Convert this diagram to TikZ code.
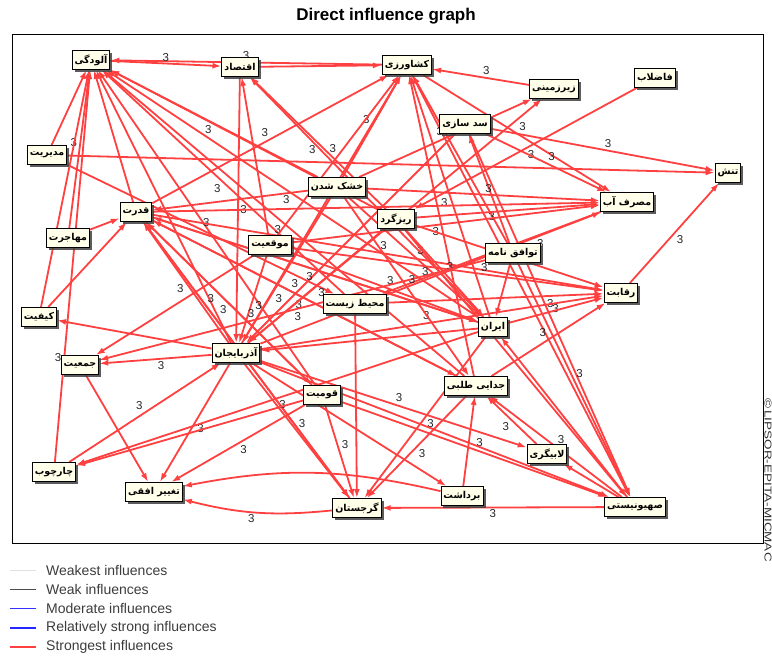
\documentclass[tikz,border=0pt]{standalone}
\usepackage{fontspec}
\setmainfont{Liberation Sans}
\newfontfamily\persianfont[Script=Arabic]{DejaVu Sans}
\TeXXeTstate=1
\usetikzlibrary{arrows.meta,shadows,backgrounds}
\definecolor{inflred}{RGB}{255,64,64}
\definecolor{factfill}{RGB}{255,255,234}
\definecolor{legendtext}{RGB}{60,60,60}
\newcommand{\fa}[1]{\beginR#1\endR}
\tikzset{
    factor/.style={draw=black, fill=factfill, line width=0.9pt, inner sep=2.5pt, minimum height=19pt,
        font=\persianfont\bfseries\fontsize{9.5}{10}\selectfont,
        drop shadow={shadow xshift=2.5pt, shadow yshift=-2.5pt, fill=black!75, opacity=.85}},
    infl/.style={draw=inflred, line width=1.8pt, -{Latex[length=9pt,width=6pt]}},
    lbl/.style={auto, font=\fontsize{11.5}{12}\selectfont, inner sep=1.5pt, text=black!85},
    legend/.style={anchor=west, inner sep=2pt, font=\fontsize{14}{15}\selectfont, text=legendtext},
}

\begin{document}
\begin{tikzpicture}[x=1pt, y=-1pt]
    \useasboundingbox (0,0) rectangle (772,657);
    \node[font=\fontsize{17}{19}\selectfont\bfseries] (title) at (386,16) {Direct influence graph};
    \draw[line width=1pt] (12,34) rectangle (763,543);
    \node[rotate=-90, xscale=1.35, font=\fontsize{10}{11}\selectfont, text=black!80] (stamp) at (768,480) {\textcopyright\,LIPSOR-EPITA-MICMAC};

    \node[factor] (alud) at (91,60) {\fa{آلودگی}};
    \node[factor] (eqtesad) at (240,67) {\fa{اقتصاد}};
    \node[factor] (keshav) at (407,65) {\fa{کشاورزی}};
    \node[factor] (zirzam) at (554,89) {\fa{زیرزمینی}};
    \node[factor] (fazelab) at (655,78) {\fa{فاضلاب}};
    \node[factor] (sadsazi) at (465,124) {\fa{سد سازی}};
    \node[factor] (modir) at (47,155) {\fa{مدیریت}};
    \node[factor] (khoshk) at (337,187) {\fa{خشک شدن}};
    \node[factor] (tanesh) at (728,173) {\fa{تنش}};
    \node[factor] (masraf) at (627,202) {\fa{مصرف آب}};
    \node[factor] (qodrat) at (136,212) {\fa{قدرت}};
    \node[factor] (rizgard) at (396,219) {\fa{ریزگرد}};
    \node[factor] (mohajer) at (68,238) {\fa{مهاجرت}};
    \node[factor] (moqeiat) at (270,245) {\fa{موقعیت}};
    \node[factor] (tavafoq) at (513,253) {\fa{توافق نامه}};
    \node[factor] (mohit) at (355,304) {\fa{محیط زیست}};
    \node[factor] (reqabat) at (621,293) {\fa{رقابت}};
    \node[factor] (keyfiat) at (39,317) {\fa{کیفیت}};
    \node[factor] (iran) at (493,327) {\fa{ایران}};
    \node[factor] (azar) at (236,353) {\fa{آذربایجان}};
    \node[factor] (jamiat) at (80,365) {\fa{جمعیت}};
    \node[factor] (qomiat) at (322,395) {\fa{قومیت}};
    \node[factor] (jodaei) at (476,386) {\fa{جدایی طلبی}};
    \node[factor] (labi) at (547,454) {\fa{لابیگری}};
    \node[factor] (charchub) at (54,472) {\fa{چارچوب}};
    \node[factor] (taqir) at (154,492) {\fa{تغییر افقی}};
    \node[factor] (bardasht) at (462,496) {\fa{برداشت}};
    \node[factor] (gorjestan) at (357,508) {\fa{گرجستان}};
    \node[factor] (sahyun) at (635,507) {\fa{صهیونیستی}};

    \begin{pgfonlayer}{background}
    \draw[infl] (keshav) -- node[lbl,swap]{3} (alud);
    \draw[infl] (alud) -- node[lbl]{3} (eqtesad);
    \draw[infl] (eqtesad) -- (keshav);
    \draw[infl] (zirzam) -- node[lbl,swap]{3} (keshav);
    \draw[infl] (modir) -- (alud);
    \draw[infl] (mohajer) -- node[lbl]{3} (alud);
    \draw[infl] (keyfiat) -- (alud);
    \draw[infl] (charchub) -- node[lbl,near start]{3} (alud);
    \draw[infl] (khoshk) -- node[lbl]{3} (alud);
    \draw[infl] (iran) -- node[lbl]{3} (alud);
    \draw[infl] (azar) -- (alud);
    \draw[infl] (mohit) -- node[lbl]{3} (alud);
    \draw[infl] (rizgard) -- (alud);
    \draw[infl] (jodaei) -- node[lbl]{3} (alud);
    \draw[infl] (qomiat) -- (alud);
    \draw[infl] (qodrat) -- (alud);
    \draw[infl] (eqtesad) -- node[lbl]{3} (azar);
    \draw[infl] (rizgard) -- node[lbl]{3} (eqtesad);
    \draw[infl] (iran) -- (eqtesad);
    \draw[infl] (moqeiat) -- (eqtesad);
    \draw[infl] (khoshk) -- node[lbl]{3} (keshav);
    \draw[infl] (moqeiat) -- node[lbl]{3} (keshav);
    \draw[infl] (qodrat) -- node[lbl]{3} (keshav);
    \draw[infl] (azar) -- (keshav);
    \draw[infl] (iran) -- node[lbl]{3} (keshav);
    \draw[infl] (tavafoq) -- (keshav);
    \draw[infl] (jodaei) -- node[lbl]{3} (keshav);
    \draw[infl] (keshav) -- node[lbl]{3} (masraf);
    \draw[infl] (keshav) -- (sahyun);
    \draw[infl] (khoshk) -- node[lbl]{3} (zirzam);
    \draw[infl] (azar) -- (zirzam);
    \draw[infl] (fazelab) -- node[lbl]{3} (rizgard);
    \draw[infl] (sadsazi) -- node[lbl]{3} (tanesh);
    \draw[infl] (sadsazi) -- node[lbl]{3} (masraf);
    \draw[infl] (tavafoq) -- node[lbl,pos=.3]{3} (sadsazi);
    \draw[infl] (sadsazi) -- (azar);
    \draw[infl] (sadsazi) -- node[lbl]{3} (sahyun);
    \draw[infl] (modir) -- (tanesh);
    \draw[infl] (modir) -- node[lbl]{3} (mohit);
    \draw[infl] (khoshk) -- node[lbl]{3} (masraf);
    \draw[infl] (khoshk) -- node[lbl,pos=.65]{3} (azar);
    \draw[infl] (khoshk) -- (qodrat);
    \draw[infl] (khoshk) -- node[lbl]{3} (iran);
    \draw[infl] (reqabat) -- node[lbl,swap]{3} (tanesh);
    \draw[infl] (qodrat) -- (masraf);
    \draw[infl] (azar) -- node[lbl]{3} (masraf);
    \draw[infl] (rizgard) -- (masraf);
    \draw[infl] (moqeiat) -- (masraf);
    \draw[infl] (masraf) -- node[lbl,pos=.3]{3} (mohit);
    \draw[infl] (mohajer) -- (qodrat);
    \draw[infl] (keyfiat) -- (qodrat);
    \draw[infl] (azar) -- node[lbl]{3} (qodrat);
    \draw[infl] (iran) -- node[lbl]{3} (qodrat);
    \draw[infl] (qomiat) -- node[lbl]{3} (qodrat);
    \draw[infl] (gorjestan) -- (qodrat);
    \draw[infl] (jodaei) -- node[lbl]{3} (qodrat);
    \draw[infl] (qodrat) -- node[lbl]{3} (reqabat);
    \draw[infl] (qodrat) -- node[lbl,pos=.3]{3} (gorjestan);
    \draw[infl] (qodrat) -- node[lbl,pos=.45]{3} (jodaei);
    \draw[infl] (qodrat) -- (iran);
    \draw[infl] (azar) -- node[lbl]{3} (taqir);
    \draw[infl] (charchub) -- node[lbl]{3} (azar);
    \draw[infl] (iran) -- node[lbl]{3} (charchub);
    \draw[infl] (qomiat) -- (charchub);
    \draw[infl] (azar) -- node[lbl]{3} (jamiat);
    \draw[infl] (moqeiat) -- (jamiat);
    \draw[infl] (jamiat) -- (taqir);
    \draw[infl] (qomiat) -- node[lbl]{3} (taqir);
    \draw[infl] (bardasht) to[bend right=12] (taqir);
    \draw[infl] (gorjestan) to[bend left=10] node[lbl]{3} (taqir);
    \draw[infl] (sahyun) -- node[lbl]{3} (gorjestan);
    \draw[infl] (bardasht) -- (jodaei);
    \draw[infl] (azar) -- node[lbl]{3} (gorjestan);
    \draw[infl] (mohit) -- (gorjestan);
    \draw[infl] (iran) -- node[lbl]{3} (gorjestan);
    \draw[infl] (qomiat) -- node[lbl]{3} (gorjestan);
    \draw[infl] (jodaei) -- node[lbl]{3} (gorjestan);
    \draw[infl] (azar) -- node[lbl]{3} (labi);
    \draw[infl] (sahyun) -- (labi);
    \draw[infl] (labi) -- node[lbl]{3} (jodaei);
    \draw[infl] (sahyun) -- node[lbl,swap]{3} (jodaei);
    \draw[infl] (sahyun) -- (iran);
    \draw[infl] (tavafoq) -- node[lbl]{3} (sahyun);
    \draw[infl] (qomiat) -- node[lbl]{3} (sahyun);
    \draw[infl] (azar) -- (sahyun);
    \draw[infl] (rizgard) -- (sahyun);
    \draw[infl] (iran) -- node[lbl]{3} (reqabat);
    \draw[infl] (jodaei) -- node[lbl]{3} (reqabat);
    \draw[infl] (azar) -- node[lbl]{3} (reqabat);
    \draw[infl] (rizgard) -- (reqabat);
    \draw[infl] (moqeiat) -- node[lbl,pos=.6]{3} (reqabat);
    \draw[infl] (mohit) -- (reqabat);
    \draw[infl] (rizgard) -- node[lbl]{3} (iran);
    \draw[infl] (tavafoq) -- (iran);
    \draw[infl] (moqeiat) -- node[lbl]{3} (iran);
    \draw[infl] (iran) -- (azar);
    \draw[infl] (azar) -- (keyfiat);
    \draw[infl] (tavafoq) -- node[lbl]{3} (jamiat);
    \draw[infl] (rizgard) -- node[lbl]{3} (azar);
    \draw[infl] (moqeiat) -- node[lbl]{3} (azar);
    \draw[infl] (qodrat) -- node[lbl,pos=.6]{3} (qomiat);
    \draw[infl] (azar) -- (bardasht);
    \draw[infl] (khoshk) -- node[lbl]{3} (jodaei);
    \end{pgfonlayer}

    \node[legend] (lg1) at (44,570) {Weakest influences};
    \node[legend] (lg2) at (44,589) {Weak influences};
    \node[legend] (lg3) at (44,608) {Moderate influences};
    \node[legend] (lg4) at (44,628) {Relatively strong influences};
    \node[legend] (lg5) at (44,647) {Strongest influences};
    \draw[black!12, line width=0.6pt] ([xshift=-34pt]lg1.west) -- ([xshift=-8pt]lg1.west);
    \draw[black!70, line width=0.8pt] ([xshift=-34pt]lg2.west) -- ([xshift=-8pt]lg2.west);
    \draw[blue!80, line width=0.8pt] ([xshift=-34pt]lg3.west) -- ([xshift=-8pt]lg3.west);
    \draw[blue!85, line width=2pt] ([xshift=-34pt]lg4.west) -- ([xshift=-8pt]lg4.west);
    \draw[inflred, line width=2.5pt] ([xshift=-34pt]lg5.west) -- ([xshift=-8pt]lg5.west);
\end{tikzpicture}
\end{document}
